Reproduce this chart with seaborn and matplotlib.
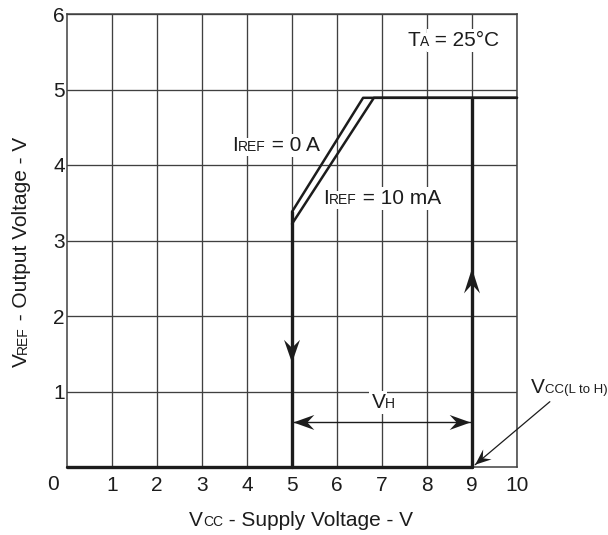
import matplotlib
matplotlib.use("Agg")
import matplotlib.pyplot as plt
import numpy as np
import pandas as pd
import seaborn as sns
from matplotlib.patches import Polygon
from matplotlib.transforms import Affine2D, IdentityTransform

# VREF versus VCC characteristic paths (volts)
iref0_vcc = [5.0, 6.58, 10.0]
iref0_vref = [3.38, 4.89, 4.89]
iref10_vcc = [5.0, 6.82, 10.0]
iref10_vref = [3.22, 4.89, 4.89]
fall_vcc = [5.0, 5.0]
fall_vref = [3.38, 0.0]
low_vcc = [0.0, 9.0]
low_vref = [0.0, 0.0]
rise_vcc = [9.0, 9.0]
rise_vref = [0.0, 4.89]

# hysteresis span VH
vh_start, vh_end, vh_level = 5.0, 9.0, 0.59

x_ticks = [1, 2, 3, 4, 5, 6, 7, 8, 9, 10]
y_ticks = [1, 2, 3, 4, 5, 6]

INK = "#1c1c1c"
GRID = "#404040"
BIG, SMALL = 15, 10

sns.set_theme(style="white")
plt.rcParams["font.family"] = ["Liberation Sans", "DejaVu Sans"]

fig = plt.figure(figsize=(6.08, 5.35), dpi=100)
ax = fig.add_axes([67 / 608, 1 - 467 / 535, 450 / 608, 453 / 535])
ax.set_xlim(0, 10)
ax.set_ylim(0, 6)

ax.set_xticks(x_ticks)
ax.set_yticks(y_ticks)
ax.set_xticklabels([str(v) for v in x_ticks])
ax.set_yticklabels([str(v) for v in y_ticks])
ax.tick_params(axis="x", length=0, pad=6.5, labelsize=BIG, labelcolor=INK)
ax.tick_params(axis="y", length=0, pad=1.5, labelsize=BIG, labelcolor=INK)
ax.grid(True, color=GRID, lw=0.95)
for sp in ax.spines.values():
    sp.set_color(GRID)
    sp.set_linewidth(1.1)


def path_plot(xs, ys, lw):
    df = pd.DataFrame({"vcc": xs, "vref": ys})
    sns.lineplot(data=df, x="vcc", y="vref", estimator=None, sort=False,
                 color=INK, lw=lw, ax=ax, zorder=4, clip_on=False)


path_plot(low_vcc, low_vref, 2.4)
path_plot(fall_vcc, fall_vref, 2.4)
path_plot(rise_vcc, rise_vref, 2.4)
path_plot(iref0_vcc, iref0_vref, 1.8)
path_plot(iref10_vcc, iref10_vref, 1.8)
path_plot([vh_start, vh_end], [vh_level, vh_level], 1.0)

# arrow from the VCC(L to H) label to the turn-on point
lead_tail = (10.73, 0.865)
lead_tip = (9.07, 0.03)
path_plot([lead_tail[0], lead_tip[0]], [lead_tail[1], lead_tip[1]], 0.9)

ax.set_xlim(0, 10)
ax.set_ylim(0, 6)
ax.set_xlabel("")
ax.set_ylabel("")


def arrowhead(tip, angle_deg, length, half_width, notch):
    tx, ty = ax.transData.transform(tip)
    pts = np.array([[0, 0], [-length, half_width], [-notch, 0], [-length, -half_width]])
    trf = Affine2D().rotate_deg(angle_deg).translate(tx, ty)
    poly = Polygon(trf.transform(pts), closed=True, transform=IdentityTransform(),
                   facecolor=INK, edgecolor="none", zorder=6)
    fig.add_artist(poly)


arrowhead((5.0, 1.38), -90, 23, 8, 15)
arrowhead((9.0, 2.63), 90, 25, 8, 16)
arrowhead((vh_start + 0.03, vh_level), 180, 21, 7.5, 14)
arrowhead((vh_end - 0.03, vh_level), 0, 21, 7.5, 14)
p0 = ax.transData.transform(lead_tail)
p1 = ax.transData.transform(lead_tip)
lead_angle = np.degrees(np.arctan2(p1[1] - p0[1], p1[0] - p0[0]))
arrowhead(lead_tip, lead_angle, 16, 6.5, 10)

renderer = fig.canvas.get_renderer()


def rich_text(x_px, y_px, pieces, rotation=0, ha="left", bg=False):
    widths = []
    for s, size in pieces:
        t = fig.text(0, 0, s, fontsize=size)
        widths.append(t.get_window_extent(renderer).width)
        t.remove()
    total = sum(widths)
    off = 0.0 if ha == "left" else -total / 2
    th = np.deg2rad(rotation)
    for (s, size), w in zip(pieces, widths):
        px = x_px + off * np.cos(th)
        py = y_px + off * np.sin(th)
        common = dict(fontsize=size, rotation=rotation, rotation_mode="anchor",
                      ha="left", va="baseline", transform=IdentityTransform(),
                      clip_on=False)
        if bg:
            # white backing drawn beneath every piece of the label
            ax.text(px, py, s, color="none", zorder=2.9,
                    bbox=dict(facecolor="white", edgecolor="none", pad=1.5), **common)
        ax.text(px, py, s, color=INK, zorder=3, **common)
        off += w


def data_px(x, y):
    return ax.transData.transform((x, y))


rich_text(*data_px(3.68, 4.19), [("I", BIG), ("REF", SMALL), (" = 0 A", BIG)], bg=True)
rich_text(*data_px(5.69, 3.48), [("I", BIG), ("REF", SMALL), (" = 10 mA", BIG)], bg=True)
rich_text(*data_px(7.56, 5.58), [("T", BIG), ("A", SMALL), (" = 25\u00b0C", BIG)], bg=True)
rich_text(*data_px(7.03, 0.78), [("V", BIG), ("H", SMALL)], ha="center", bg=True)
rich_text(*data_px(10.31, 0.98), [("V", BIG), ("CC(L to H)", 9.5)])

# origin label shared by both axes
ox, oy = data_px(0, 0)
ax.text(ox - 14, oy - 18, "0", fontsize=BIG, color=INK, ha="center", va="center",
        transform=IdentityTransform(), clip_on=False)

# axis titles
rich_text(301, 535 - 526, [("V", BIG), ("CC", SMALL), (" - Supply Voltage - V", BIG)], ha="center")
rich_text(27, 535 - 252, [("V", BIG), ("REF", SMALL), (" - Output Voltage - V", BIG)],
          rotation=90, ha="center")

fig.savefig("out.png", dpi=100)
